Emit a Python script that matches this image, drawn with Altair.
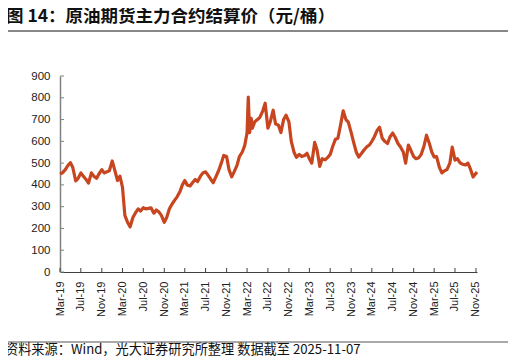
import altair as alt
import pandas as pd

# ---- data (semi-monthly) ----
dates = [
    "2019-03-01","2019-03-15","2019-04-01","2019-04-15","2019-05-01","2019-05-15","2019-06-01","2019-06-15",
    "2019-07-01","2019-07-15","2019-08-01","2019-08-15","2019-09-01","2019-09-15","2019-10-01","2019-10-15",
    "2019-11-01","2019-11-15","2019-12-01","2019-12-15","2020-01-01","2020-01-15","2020-02-01","2020-02-15",
    "2020-03-01","2020-03-15","2020-04-01","2020-04-15","2020-05-01","2020-05-15","2020-06-01","2020-06-15",
    "2020-07-01","2020-07-15","2020-08-01","2020-08-15","2020-09-01","2020-09-15","2020-10-01","2020-10-15",
    "2020-11-01","2020-11-15","2020-12-01","2020-12-15","2021-01-01","2021-01-15","2021-02-01","2021-02-15",
    "2021-03-01","2021-03-15","2021-04-01","2021-04-15","2021-05-01","2021-05-15","2021-06-01","2021-06-15",
    "2021-07-01","2021-07-15","2021-08-01","2021-08-15","2021-09-01","2021-09-15","2021-10-01","2021-10-15",
    "2021-11-01","2021-11-15","2021-12-01","2021-12-15","2022-01-01","2022-01-15","2022-02-01","2022-02-15",
    "2022-03-01","2022-03-08","2022-03-16","2022-03-25","2022-04-01","2022-04-15","2022-05-01","2022-05-15",
    "2022-06-01","2022-06-15","2022-07-01","2022-07-15","2022-08-01","2022-08-15","2022-09-01","2022-09-15",
    "2022-10-01","2022-10-15","2022-11-01","2022-11-15","2022-12-01","2022-12-15","2023-01-01","2023-01-15",
    "2023-02-01","2023-02-15","2023-03-01","2023-03-15","2023-04-01","2023-04-15","2023-05-01","2023-05-15",
    "2023-06-01","2023-06-15","2023-07-01","2023-07-15","2023-08-01","2023-08-15","2023-09-01","2023-09-15",
    "2023-10-01","2023-10-15","2023-11-01","2023-11-15","2023-12-01","2023-12-15","2024-01-01","2024-01-15",
    "2024-02-01","2024-02-15","2024-03-01","2024-03-15","2024-04-01","2024-04-15","2024-05-01","2024-05-15",
    "2024-06-01","2024-06-15","2024-07-01","2024-07-15","2024-08-01","2024-08-15","2024-09-01","2024-09-15",
    "2024-10-01","2024-10-15","2024-11-01","2024-11-15","2024-12-01","2024-12-15","2025-01-01","2025-01-15",
    "2025-02-01","2025-02-15","2025-03-01","2025-03-15","2025-04-01","2025-04-15","2025-05-01","2025-05-15",
    "2025-06-01","2025-06-15","2025-07-01","2025-07-15","2025-08-01","2025-08-15","2025-09-01","2025-09-15",
    "2025-10-01","2025-10-15","2025-11-07",
]
prices = [
    450, 455, 470, 488, 502, 480, 418, 430,
    455, 440, 425, 408, 455, 440, 430, 450,
    470, 455, 460, 465, 510, 470, 420, 440,
    390, 260, 226, 207, 250, 270, 290, 280,
    295, 290, 292, 295, 270, 285, 275, 260,
    228, 250, 290, 310, 330, 345, 370, 400,
    420, 400, 395, 410, 425, 415, 440, 455,
    460, 445, 425, 410, 440, 465, 500, 535,
    530, 470, 437, 460, 490, 530, 551, 580,
    640, 803, 640, 706, 660, 690, 700, 710,
    740, 775, 660, 690, 743, 680, 674, 640,
    700, 720, 690, 600, 550, 527, 540, 530,
    535, 545, 520, 500, 595, 560, 485, 520,
    515, 525, 540, 575, 610, 614, 680, 740,
    700, 688, 640, 596, 550, 528, 545, 560,
    575, 583, 600, 620, 650, 665, 614, 600,
    590, 620, 638, 620, 590, 575, 551, 500,
    583, 560, 530, 520, 525, 540, 580, 628,
    590, 551, 528, 530, 480, 455, 465, 470,
    500, 574, 514, 520, 500, 495, 491, 500,
    470, 436, 459,
]
tick_dates = [
    "2019-03-01","2019-07-01","2019-11-01","2020-03-01","2020-07-01","2020-11-01",
    "2021-03-01","2021-07-01","2021-11-01","2022-03-01","2022-07-01","2022-11-01",
    "2023-03-01","2023-07-01","2023-11-01","2024-03-01","2024-07-01","2024-11-01",
    "2025-03-01","2025-07-01","2025-11-01",
]
y_ticks = [0, 100, 200, 300, 400, 500, 600, 700, 800, 900]
title_text = "图 14：原油期货主力合约结算价（元/桶）"
source_text = "资料来源：Wind，光大证券研究所整理 数据截至 2025-11-07"

W, H = 417, 196
CJK = "Noto Sans CJK SC"
LAT = "Liberation Sans"

df = pd.DataFrame({"date": dates, "price": prices})
tick_ms = [int(pd.Timestamp(d, tz="UTC").timestamp() * 1000) for d in tick_dates]
ticks_df = pd.DataFrame({"date": tick_dates})
yt_df = pd.DataFrame({"price": y_ticks})

xscale = alt.Scale(type="utc", domain=["2019-03-01", "2025-11-07"], nice=False)
yscale = alt.Scale(domain=[0, 900], nice=False)
xaxis = alt.Axis(values=tick_ms, format="%b-%y", labelAngle=270, labelAlign="right",
                 labelBaseline="middle", labelPadding=9, ticks=False, grid=False,
                 domainColor="#404040", domainWidth=1, labelFont=LAT, labelFontSize=11,
                 labelColor="#222222", title=None, labelOverlap=False)
yaxis = alt.Axis(values=y_ticks, ticks=False, grid=False, domainColor="#808080",
                 domainWidth=1.5, labelFont=LAT, labelFontSize=11.5, labelColor="#222222",
                 labelPadding=10, title=None, labelOverlap=False)

line = alt.Chart(df).mark_line(color="#C8461F", strokeWidth=3.2, strokeJoin="round").encode(
    x=alt.X("date:T", scale=xscale, axis=xaxis),
    y=alt.Y("price:Q", scale=yscale, axis=yaxis),
)

xt = alt.Chart(ticks_df).mark_rule(color="#404040", strokeWidth=1).encode(
    x=alt.X("date:T", scale=xscale, axis=xaxis), y=alt.value(H), y2=alt.value(H - 4)
)
yt = alt.Chart(yt_df).mark_rule(color="#808080", strokeWidth=1).encode(
    y=alt.Y("price:Q", scale=yscale, axis=yaxis), x=alt.value(0), x2=alt.value(4)
)

title = alt.Chart(pd.DataFrame({"t": [title_text]})).mark_text(
    font=CJK, fontSize=17.5, fontWeight="bold", align="left", baseline="middle", color="#111111"
).encode(text="t:N", x=alt.value(-54), y=alt.value(-59.5))

title_rule = alt.Chart(pd.DataFrame({"a": [0]})).mark_rule(color="#111111", strokeWidth=1).encode(
    x=alt.value(-54), x2=alt.value(448), y=alt.value(-45)
)
src_rule = alt.Chart(pd.DataFrame({"a": [0]})).mark_rule(color="#555555", strokeWidth=1).encode(
    x=alt.value(-55), x2=alt.value(448), y=alt.value(266)
)
source = alt.Chart(pd.DataFrame({"t": [source_text]})).mark_text(
    font=CJK, fontSize=13.2, align="left", baseline="middle", color="#111111"
).encode(text="t:N", x=alt.value(-55), y=alt.value(273.5))

chart = alt.layer(line, xt, yt, title, title_rule, src_rule, source).properties(
    width=W, height=H,
    autosize=alt.AutoSizeParams(type="none"),
    padding={"left": 52, "top": 68, "right": 31, "bottom": 84},
).configure_view(stroke=None)

chart.save("out.html", embed_options={"renderer": "svg", "actions": False})
